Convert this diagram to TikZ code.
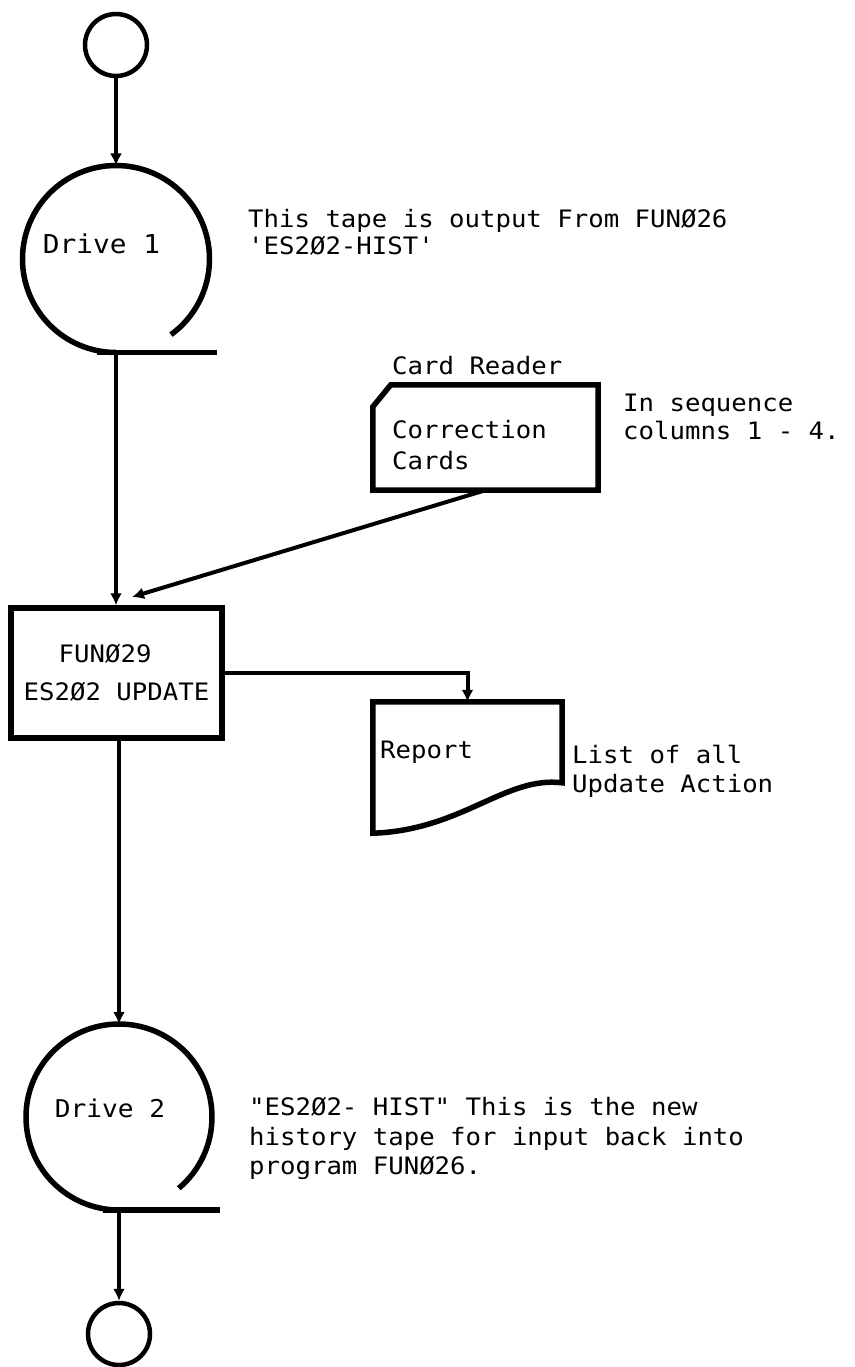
\documentclass[tikz,border=0pt]{standalone}
\usepackage{fontspec}
\setmonofont[FakeStretch=1.07]{DejaVu Sans Mono}
\usetikzlibrary{arrows.meta,calc}
\begin{document}
\begin{tikzpicture}[x=1pt,y=-1pt,
  txt/.style={font=\ttfamily\fontsize{24}{28}\selectfont, inner sep=0pt},
  lbl/.style={font=\ttfamily\fontsize{#1}{30}\selectfont, inner sep=0pt},
  tape/.style={line width=5.5pt},
  conn/.style={line width=4pt, -{Latex[length=12pt,width=12pt]}},
  term/.style={circle, draw, line width=4.5pt, minimum size=62pt, inner sep=0pt},
  drive/.style={circle, inner sep=0pt, outer sep=0pt}]
\useasboundingbox (0,0) rectangle (854,1367);

% start terminal and first tape drive
\node[term] (start) at (116,45) {};
\node[drive, minimum size=187pt] (d1) at (116,259) {};
\draw[tape] (d1.south) arc[start angle=90, end angle=414, radius=93.5];
\draw[tape] ([xshift=-19pt]d1.south) -- ([xshift=101pt]d1.south);
\node[lbl=26] (d1txt) at (101.5,244) {Drive 1};
\node[txt, anchor=west, align=left] (note1) at (248,232.5)
  {This tape is output From FUNØ26\\[-1pt]'ES2Ø2-HIST'};
\draw[conn] (start) -- (d1);

% card reader input
\node[minimum width=225pt, minimum height=105pt, inner sep=0pt] (card) at (485.5,437.5) {};
\draw[tape] ($(card.north west)+(0,22)$) -- ($(card.north west)+(18,0)$)
  -- (card.north east) -- (card.south east) -- (card.south west) -- cycle;
\node[txt, anchor=west, align=left] (cardtxt) at (392,445.5) {Correction\\[3pt]Cards};
\node[txt, anchor=west] (cardhdr) at (392,366) {Card Reader};
\node[txt, anchor=west, align=left] (seq) at (623,417) {In sequence\\columns 1 - 4.};

% update program
\node[txt, draw, line width=5.5pt, minimum width=211pt, minimum height=130pt, align=left]
  (fun) at (116.5,673) {\hspace*{35pt}FUNØ29\\[10pt]ES2Ø2 UPDATE};
\coordinate (cin) at (132,597);
\draw[conn] (card.south) -- (cin);
\draw[conn] (d1.south) -- (d1.south |- fun.north);

% printed report
\node[minimum width=189pt, minimum height=131pt, inner sep=0pt] (rep) at (467.5,767.5) {};
\draw[tape] (rep.south west) -- (rep.north west) -- (rep.north east)
  -- ($(rep.north east)+(0,81)$)
  .. controls ($(rep.north east)+(-57,74)$) and ($(rep.south west)+(89,-3)$) .. (rep.south west)
  -- cycle;
\node[txt, anchor=west] (reptxt) at (380,752) {Report};
\node[txt, anchor=west, align=left] (repnote) at (572,771.5) {List of all\\[1pt]Update Action};
\draw[conn] (fun.east) -| (rep.north);

% second tape drive and end terminal
\node[drive, minimum size=186pt] (d2) at (119,1117) {};
\draw[tape] (d2.south) arc[start angle=90, end angle=410, radius=93];
\draw[tape] ([xshift=-16pt]d2.south) -- ([xshift=101pt]d2.south);
\node[lbl=24.5] (d2txt) at (110,1108) {Drive 2};
\node[txt, anchor=west, align=left] (note2) at (249,1138)
  {"ES2Ø2- HIST" This is the new\\[2pt]history tape for input back into\\[1pt]program FUNØ26.};
\draw[conn] (d2.north |- fun.south) -- (d2);
\node[term] (stop) at (119,1334) {};
\draw[conn] (d2.south) -- (stop);
\end{tikzpicture}
\end{document}
